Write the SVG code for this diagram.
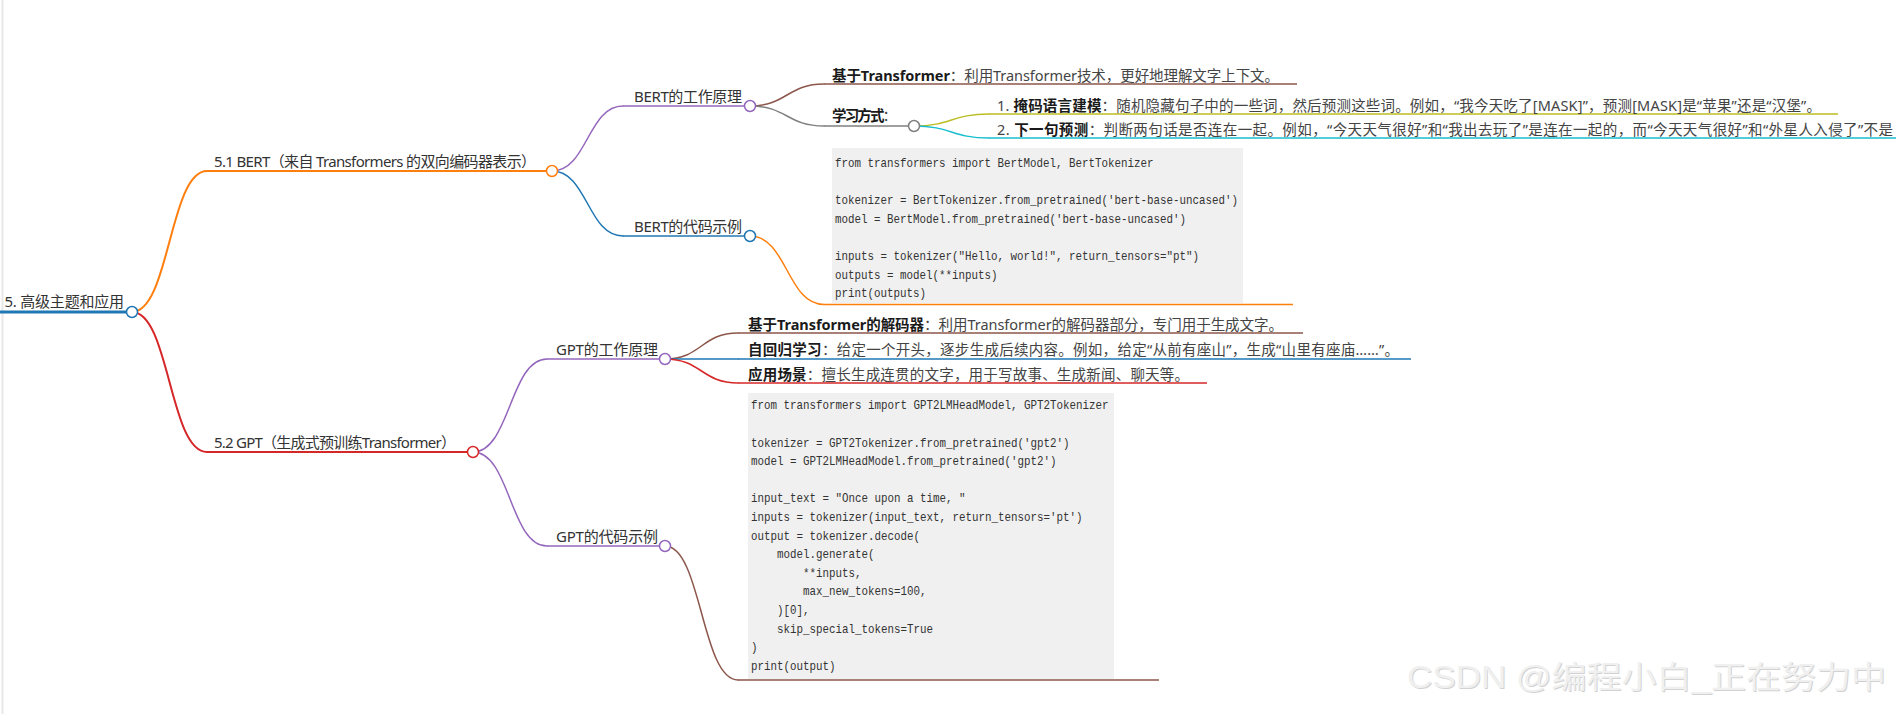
<svg xmlns="http://www.w3.org/2000/svg" width="1896" height="714" viewBox="0 0 1896 714">
<style>
.t{font-family:"Noto Sans","Noto Sans CJK SC",sans-serif;font-size:15px;fill:#333}
.lf{font-family:"Noto Sans","Noto Sans CJK SC",sans-serif;font-size:14.5px;fill:#444}
.b{font-weight:700;fill:#1a1a1a}
.code{font-family:"Liberation Mono",monospace;font-size:12.5px;fill:#333}
.box{fill:#f0f0f0}
.ln{fill:none;stroke-linecap:round}
.c{fill:#fff;stroke-width:1.5}
.wm{font-family:"Liberation Sans","Noto Sans CJK SC",sans-serif;font-size:31px}
</style>
<rect x="0" y="0" width="1896" height="714" fill="#fff"/>
<rect x="1.5" y="0" width="2" height="714" fill="#e8e8e8"/>

<g id="connectors" class="ln">
  <path d="M132 312 C169.5 312 169.5 171 207 171" stroke="#ff7f0e" stroke-width="2"/>
  <path d="M132 312 C169.5 312 169.5 452 207 452" stroke="#d62728" stroke-width="2"/>
  <path d="M552 171 C587.5 171 587.5 106 623 106" stroke="#9467bd" stroke-width="1.5"/>
  <path d="M552 171 C587.5 171 587.5 236 623 236" stroke="#1f77b4" stroke-width="1.5"/>
  <path d="M750 106 C787 106 787 84 824 84" stroke="#8c564b" stroke-width="1.5"/>
  <path d="M750 106 C787 106 787 126 824 126" stroke="#7f7f7f" stroke-width="1.5"/>
  <path d="M914 126 C951.5 126 951.5 114 989 114" stroke="#bcbd22" stroke-width="1.5"/>
  <path d="M914 126 C951.5 126 951.5 138 989 138" stroke="#17becf" stroke-width="1.5"/>
  <path d="M750 236 C787 236 787 304.5 824 304.5" stroke="#ff7f0e" stroke-width="1.5"/>
  <path d="M473 452 C510 452 510 359 547 359" stroke="#9467bd" stroke-width="1.5"/>
  <path d="M473 452 C510 452 510 546 547 546" stroke="#9467bd" stroke-width="1.5"/>
  <path d="M665 359 C701.5 359 701.5 333 738 333" stroke="#8c564b" stroke-width="1.5"/>
  <path d="M665 359 L738 359" stroke="#1f77b4" stroke-width="1.5"/>
  <path d="M665 359 C701.5 359 701.5 383 738 383" stroke="#d62728" stroke-width="1.5"/>
  <path d="M665 546 C701.5 546 701.5 680 738 680" stroke="#8c564b" stroke-width="1.5"/>
</g>

<g id="n-root">
  <line x1="0" y1="312" x2="132" y2="312" stroke="#1f77b4" stroke-width="3"/>
  <text class="t" x="4.5" y="306.5" textLength="119.5" lengthAdjust="spacing">5. 高级主题和应用</text>
  <circle class="c" cx="132" cy="312" r="5.5" stroke="#1f77b4"/>
</g>

<g id="n-bert">
  <line x1="207" y1="171" x2="552" y2="171" stroke="#ff7f0e" stroke-width="2"/>
  <text class="t" x="214" y="167" textLength="322" lengthAdjust="spacing">5.1 BERT（来自 Transformers 的双向编码器表示）</text>
  <circle class="c" cx="552" cy="171" r="5.5" stroke="#ff7f0e"/>
</g>

<g id="n-gpt">
  <line x1="207" y1="452" x2="473" y2="452" stroke="#d62728" stroke-width="2"/>
  <text class="t" x="214" y="448" textLength="242" lengthAdjust="spacing">5.2 GPT（生成式预训练Transformer）</text>
  <circle class="c" cx="473" cy="452" r="5.5" stroke="#d62728"/>
</g>

<g id="n-bert-principle">
  <line x1="623" y1="106" x2="750" y2="106" stroke="#9467bd" stroke-width="1.5"/>
  <text class="t" x="634" y="101.5" textLength="108" lengthAdjust="spacing">BERT的工作原理</text>
  <circle class="c" cx="750" cy="106" r="5.5" stroke="#9467bd"/>
</g>

<g id="n-bert-code">
  <line x1="623" y1="236" x2="750" y2="236" stroke="#1f77b4" stroke-width="1.5"/>
  <text class="t" x="634" y="231.5" textLength="108" lengthAdjust="spacing">BERT的代码示例</text>
  <circle class="c" cx="750" cy="236" r="5.5" stroke="#1f77b4"/>
</g>

<g id="n-bert-transformer">
  <line x1="824" y1="84" x2="1297" y2="84" stroke="#8c564b" stroke-width="1.5"/>
  <text class="lf" x="832" y="80.5" textLength="447" lengthAdjust="spacing"><tspan class="b">基于Transformer</tspan>：利用Transformer技术，更好地理解文字上下文。</text>
</g>

<g id="n-bert-learning">
  <line x1="824" y1="126" x2="914" y2="126" stroke="#7f7f7f" stroke-width="1.5"/>
  <text class="lf" x="832" y="121" textLength="65" lengthAdjust="spacing"><tspan class="b">学习方式</tspan>：</text>
  <circle class="c" cx="914" cy="126" r="5.5" stroke="#7f7f7f"/>
</g>

<g id="n-mlm">
  <line x1="989" y1="114" x2="1838" y2="114" stroke="#bcbd22" stroke-width="1.5"/>
  <text class="lf" x="997" y="110.5" textLength="824" lengthAdjust="spacing">1. <tspan class="b">掩码语言建模</tspan>：随机隐藏句子中的一些词，然后预测这些词。例如，“我今天吃了[MASK]”，预测[MASK]是“苹果”还是“汉堡”。</text>
</g>

<g id="n-nsp">
  <line x1="989" y1="138" x2="1896" y2="138" stroke="#17becf" stroke-width="1.5"/>
  <text class="lf" x="997" y="134.5" textLength="896" lengthAdjust="spacing">2. <tspan class="b">下一句预测</tspan>：判断两句话是否连在一起。例如，“今天天气很好”和“我出去玩了”是连在一起的，而“今天天气很好”和“外星人入侵了”不是</text>
</g>

<g id="n-bert-code-block">
  <rect class="box" x="832" y="148" width="411" height="155"/>
  <line x1="824" y1="304.5" x2="1293" y2="304.5" stroke="#ff7f0e" stroke-width="1.5"/>
  <g transform="translate(835 0) scale(0.868 1)" class="code">
    <text x="0" y="167">from transformers import BertModel, BertTokenizer</text>
    <text x="0" y="204.2">tokenizer = BertTokenizer.from_pretrained('bert-base-uncased')</text>
    <text x="0" y="222.8">model = BertModel.from_pretrained('bert-base-uncased')</text>
    <text x="0" y="260">inputs = tokenizer("Hello, world!", return_tensors="pt")</text>
    <text x="0" y="278.6">outputs = model(**inputs)</text>
    <text x="0" y="297.2">print(outputs)</text>
  </g>
</g>

<g id="n-gpt-principle">
  <line x1="547" y1="359" x2="665" y2="359" stroke="#9467bd" stroke-width="1.5"/>
  <text class="t" x="556" y="354.5" textLength="102" lengthAdjust="spacing">GPT的工作原理</text>
  <circle class="c" cx="665" cy="359" r="5.5" stroke="#9467bd"/>
</g>

<g id="n-gpt-code">
  <line x1="547" y1="546" x2="665" y2="546" stroke="#9467bd" stroke-width="1.5"/>
  <text class="t" x="556" y="542" textLength="102" lengthAdjust="spacing">GPT的代码示例</text>
  <circle class="c" cx="665" cy="546" r="5.5" stroke="#9467bd"/>
</g>

<g id="n-gpt-decoder">
  <line x1="738" y1="333" x2="1303" y2="333" stroke="#8c564b" stroke-width="1.5"/>
  <text class="lf" x="748" y="329.5" textLength="535" lengthAdjust="spacing"><tspan class="b">基于Transformer的解码器</tspan>：利用Transformer的解码器部分，专门用于生成文字。</text>
</g>

<g id="n-gpt-autoreg">
  <line x1="738" y1="359" x2="1411" y2="359" stroke="#1f77b4" stroke-width="1.5"/>
  <text class="lf" x="748" y="354.5" textLength="651" lengthAdjust="spacing"><tspan class="b">自回归学习</tspan>：给定一个开头，逐步生成后续内容。例如，给定“从前有座山”，生成“山里有座庙……”。</text>
</g>

<g id="n-gpt-usage">
  <line x1="738" y1="383" x2="1207" y2="383" stroke="#d62728" stroke-width="1.5"/>
  <text class="lf" x="748" y="379.5" textLength="441" lengthAdjust="spacing"><tspan class="b">应用场景</tspan>：擅长生成连贯的文字，用于写故事、生成新闻、聊天等。</text>
</g>

<g id="n-gpt-code-block">
  <rect class="box" x="748" y="393" width="366" height="286"/>
  <line x1="738" y1="680" x2="1159" y2="680" stroke="#8c564b" stroke-width="1.5"/>
  <g transform="translate(751 0) scale(0.868 1)" class="code">
    <text x="0" y="409.5">from transformers import GPT2LMHeadModel, GPT2Tokenizer</text>
    <text x="0" y="446.7">tokenizer = GPT2Tokenizer.from_pretrained('gpt2')</text>
    <text x="0" y="465.3">model = GPT2LMHeadModel.from_pretrained('gpt2')</text>
    <text x="0" y="502.5">input_text = "Once upon a time, "</text>
    <text x="0" y="521.1">inputs = tokenizer(input_text, return_tensors='pt')</text>
    <text x="0" y="539.7">output = tokenizer.decode(</text>
    <text x="30" y="558.3">model.generate(</text>
    <text x="60" y="576.9">**inputs,</text>
    <text x="60" y="595.5">max_new_tokens=100,</text>
    <text x="30" y="614.1">)[0],</text>
    <text x="30" y="632.7">skip_special_tokens=True</text>
    <text x="0" y="651.3">)</text>
    <text x="0" y="669.9">print(output)</text>
  </g>
</g>

<g id="watermark">
  <text class="wm" x="1408" y="689" textLength="479" lengthAdjust="spacingAndGlyphs" fill="#d2d2d2">CSDN @编程小白_正在努力中</text>
  <text class="wm" x="1407" y="688" textLength="479" lengthAdjust="spacingAndGlyphs" fill="#f0f0f0">CSDN @编程小白_正在努力中</text>
</g>
</svg>
